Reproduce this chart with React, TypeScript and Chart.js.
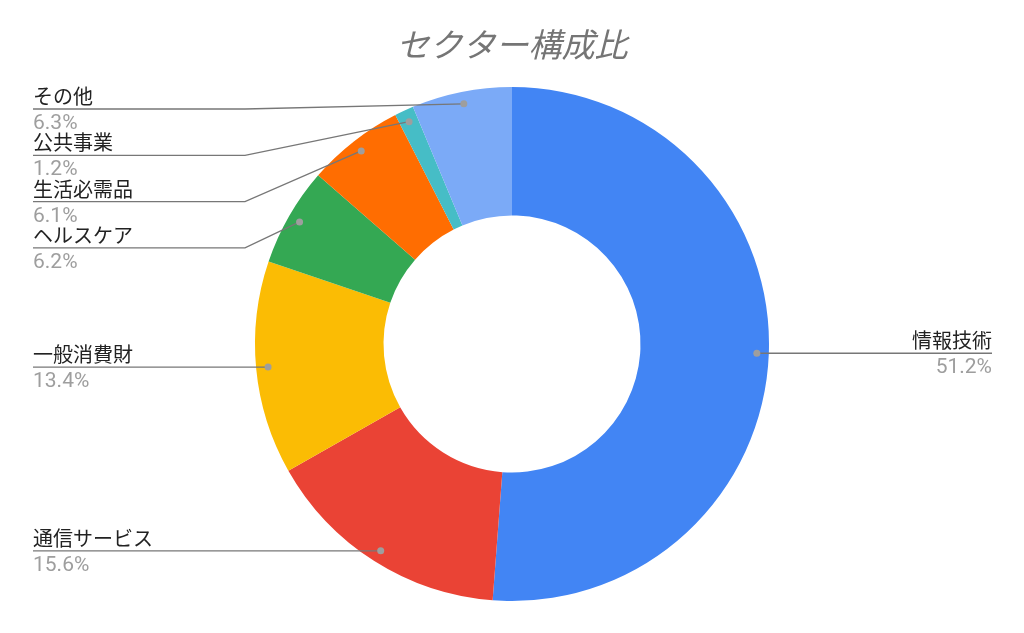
import React, { useEffect, useRef } from "react";
import { Chart, registerables } from "chart.js";

Chart.register(...registerables);

const TITLE = "セクター構成比";
const categories = ["情報技術", "通信サービス", "一般消費財", "ヘルスケア", "生活必需品", "公共事業", "その他"];
const values = [51.2, 15.6, 13.4, 6.2, 6.1, 1.2, 6.3];
const colors = ["#4285F4", "#EA4335", "#FBBC04", "#34A853", "#FF6D01", "#46BDC6", "#7BAAF7"];

const FONT = "Roboto, 'Noto Sans CJK JP', sans-serif";

const labelPlugin = {
  id: "leaderLabels",
  afterDatasetsDraw(chart: any) {
    const ctx = chart.ctx;
    const meta = chart.getDatasetMeta(0);
    const total = values.reduce((a, b) => a + b, 0);
    const items: any[] = [];
    meta.data.forEach((arc: any, i: number) => {
      const p = arc.getProps(["x", "y", "startAngle", "endAngle", "outerRadius"], true);
      const mid = (p.startAngle + p.endAngle) / 2;
      const r = p.outerRadius - 12;
      const dx = p.x + Math.cos(mid) * r;
      const dy = p.y + Math.sin(mid) * r;
      items.push({ i, dx, dy, right: Math.cos(mid) > 0 });
    });
    const gap = 46.3;
    const minTop = 109;
    ["left", "right"].forEach((side) => {
      const list = items.filter((it) => (side === "right") === it.right).sort((a, b) => a.dy - b.dy);
      let prev = -Infinity;
      list.forEach((it) => {
        const y = Math.max(it.dy, minTop, prev + gap);
        it.ly = y;
        prev = y;
      });
    });
    const W = chart.width;
    items.forEach((it) => {
      const textX = it.right ? W - 32 : 33;
      const elbowX = it.right ? W - 245 : 245;
      ctx.save();
      ctx.strokeStyle = "#777777";
      ctx.lineWidth = 1.3;
      ctx.beginPath();
      ctx.moveTo(textX, it.ly);
      ctx.lineTo(elbowX, it.ly);
      ctx.lineTo(it.dx, it.dy);
      ctx.stroke();
      ctx.fillStyle = "#9e9e9e";
      ctx.beginPath();
      ctx.arc(it.dx, it.dy, 3.5, 0, Math.PI * 2);
      ctx.fill();
      ctx.textAlign = it.right ? "right" : "left";
      ctx.textBaseline = "alphabetic";
      ctx.font = `20px ${FONT}`;
      ctx.fillStyle = "#222222";
      ctx.fillText(categories[it.i], textX, it.ly - 5);
      ctx.font = `21px ${FONT}`;
      ctx.fillStyle = "#9e9e9e";
      ctx.fillText(((values[it.i] / total) * 100).toFixed(1) + "%", textX, it.ly + 20);
      ctx.restore();
    });
    ctx.save();
    ctx.font = `italic 33px ${FONT}`;
    ctx.fillStyle = "#757575";
    ctx.textAlign = "center";
    ctx.textBaseline = "alphabetic";
    ctx.fillText(TITLE, W / 2, 57);
    ctx.restore();
  },
};

export default function App() {
  const ref = useRef<HTMLCanvasElement>(null);
  useEffect(() => {
    document.body.style.margin = "0";
    const chart = new Chart(ref.current as HTMLCanvasElement, {
      type: "doughnut",
      data: {
        labels: categories,
        datasets: [
          {
            data: values,
            backgroundColor: colors,
            borderWidth: 0,
          },
        ],
      },
      options: {
        animation: false,
        responsive: false,
        cutout: "50%",
        layout: { padding: { top: 87, bottom: 32, left: 100, right: 100 } },
        plugins: {
          legend: { display: false },
          tooltip: { enabled: false },
          title: { display: false },
        },
      },
      plugins: [labelPlugin],
    });
    return () => chart.destroy();
  }, []);
  return (
    <div style={{ width: 1024, height: 633, background: "#fff" }}>
      <canvas ref={ref} width={1024} height={633} style={{ width: 1024, height: 633 }} />
    </div>
  );
}
